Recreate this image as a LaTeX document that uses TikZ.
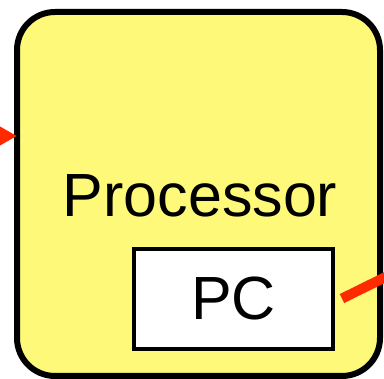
\documentclass[tikz,border=0pt]{standalone}
\usepackage{fontspec}
\setmainfont{Liberation Sans}
\usetikzlibrary{arrows.meta}
\definecolor{procyellow}{RGB}{255,249,122}
\definecolor{wirered}{RGB}{255,42,0}
\tikzset{
  unitbox/.style={draw=black, outer sep=0pt, inner sep=0pt},
  bigtext/.style={font=\fontsize{61}{70}\selectfont, inner sep=0pt},
  wire/.style={draw=wirered, line width=10pt},
  inwire/.style={draw=wirered, line width=7pt,
    -{Triangle[length=30pt,width=32pt]}}
}
\begin{document}
\begin{tikzpicture}[x=1pt,y=-1pt]
  \useasboundingbox (0,0) rectangle (384,379);
  \clip (0,0) rectangle (384,379);

  % processor block
  \node[unitbox, fill=procyellow, line width=6pt, rounded corners=38pt,
        minimum width=363pt, minimum height=364pt] (proc) at (198.5,194) {};
  \node[bigtext, anchor=base] (proclabel) at (200,217) {Processor};

  % program counter register
  \node[unitbox, fill=white, line width=4pt,
        minimum width=199pt, minimum height=100pt] (pc) at (233.5,299) {};
  \node[bigtext] (pclabel) at (pc.center) {PC};

  % incoming wire on the left
  \coordinate (inL) at (-40,136);
  \draw[inwire] (inL) -- (proc.west |- inL);

  % outgoing wire from the PC
  \coordinate (outR) at (420,260);
  \draw[wire, shorten <=10pt] ([yshift=-4pt]pc.east) -- (outR);
\end{tikzpicture}
\end{document}
